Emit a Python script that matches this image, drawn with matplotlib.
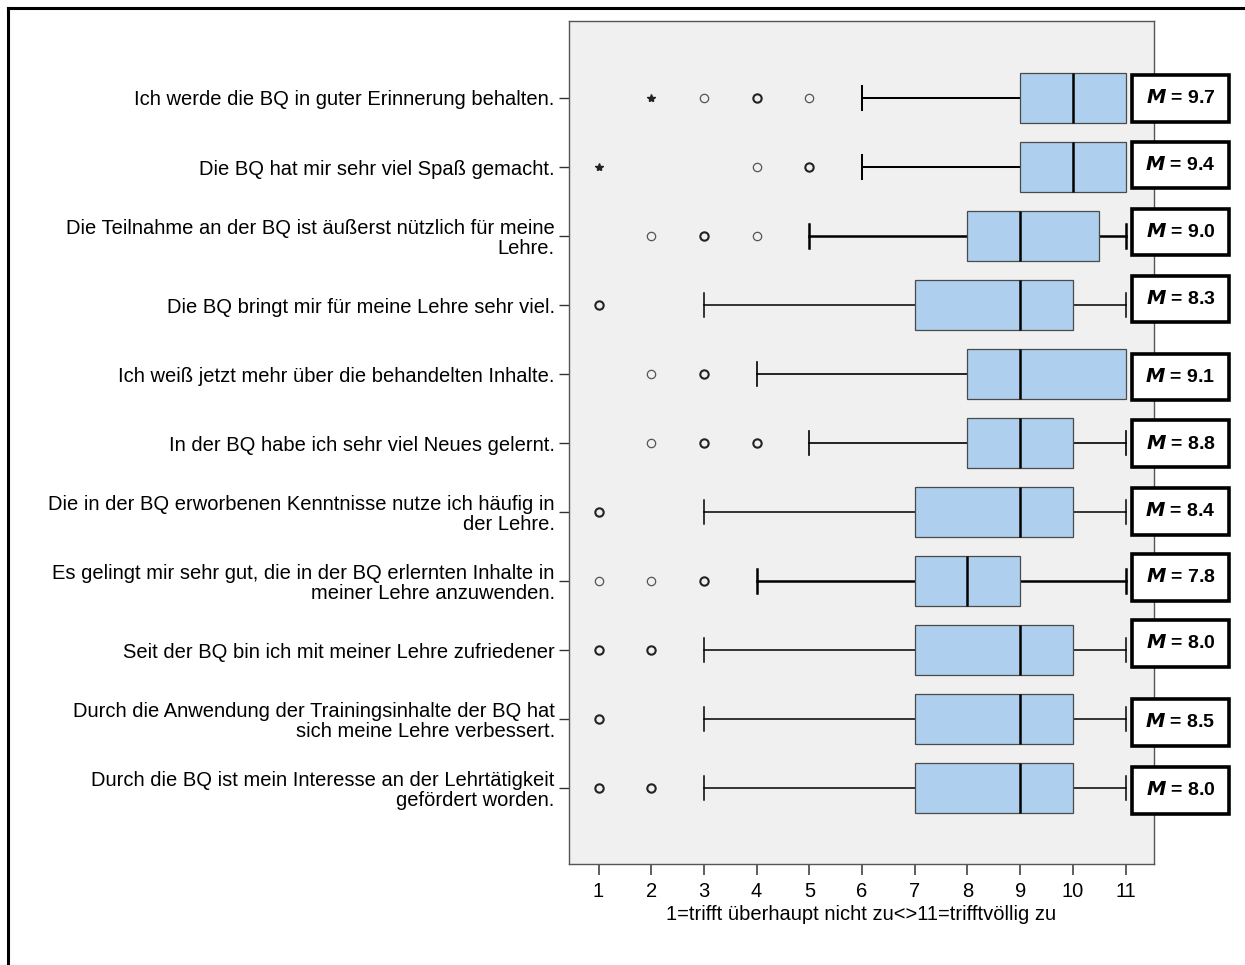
import matplotlib
matplotlib.use("Agg")
import matplotlib.pyplot as plt
from matplotlib.lines import Line2D
from matplotlib.patches import Rectangle

# ---- data -------------------------------------------------------------
items = [
    "Ich werde die BQ in guter Erinnerung behalten.",
    "Die BQ hat mir sehr viel Spaß gemacht.",
    "Die Teilnahme an der BQ ist äußerst nützlich für meine\nLehre.",
    "Die BQ bringt mir für meine Lehre sehr viel.",
    "Ich weiß jetzt mehr über die behandelten Inhalte.",
    "In der BQ habe ich sehr viel Neues gelernt.",
    "Die in der BQ erworbenen Kenntnisse nutze ich häufig in\nder Lehre.",
    "Es gelingt mir sehr gut, die in der BQ erlernten Inhalte in\nmeiner Lehre anzuwenden.",
    "Seit der BQ bin ich mit meiner Lehre zufriedener",
    "Durch die Anwendung der Trainingsinhalte der BQ hat\nsich meine Lehre verbessert.",
    "Durch die BQ ist mein Interesse an der Lehrtätigkeit\ngefördert worden.",
]
q1 = [9, 9, 8, 7, 8, 8, 7, 7, 7, 7, 7]
medians = [10, 10, 9, 9, 9, 9, 9, 8, 9, 9, 9]
q3 = [11, 11, 10.5, 10, 11, 10, 10, 9, 10, 10, 10]
whisker_low = [6, 6, 5, 3, 4, 5, 3, 4, 3, 3, 3]
whisker_high = [11, 11, 11, 11, 11, 11, 11, 11, 11, 11, 11]
outliers = [[3, 4, 5], [4, 5], [2, 3, 4], [1], [2, 3], [2, 3, 4],
            [1], [1, 2, 3], [1, 2], [1], [1, 2]]
extremes = [[2], [1], [], [], [], [], [], [], [], [], []]
means = [9.7, 9.4, 9.0, 8.3, 9.1, 8.8, 8.4, 7.8, 8.0, 8.5, 8.0]
scale_ticks = list(range(1, 12))
scale_label = "1=trifft überhaupt nicht zu<>11=trifftvöllig zu"

# ---- styling ------------------------------------------------------------
FONT = "Liberation Sans"
BOX_FILL = "#aecfee"
PANEL_BG = "#f0f0f0"
whisker_lw = [1.45, 1.45, 1.8, 1.1, 1.2, 1.2, 1.1, 1.8, 1.1, 1.1, 1.1]
# darker rings where several cases share the same value
heavy_outliers = [[4], [5], [3], [1], [3], [3, 4], [1], [3], [1, 2], [1], [1, 2]]
# small vertical nudges (pixels) of the mean badges
badge_nudge_px = [0.5, -2, -4, -6, 3, 0.5, -1, -4, -7, 3, 2]

plt.rcParams["font.family"] = [FONT, "DejaVu Sans"]

W, H, DPI = 1245, 965, 100
fig = plt.figure(figsize=(W / DPI, H / DPI), dpi=DPI, facecolor="white")
ax = fig.add_axes([569 / W, 1 - 864 / H, (1154 - 569) / W, (864 - 20.7) / H])
ax.set_facecolor(PANEL_BG)

positions = list(range(1, len(items) + 1))
stats = []
for i in range(len(items)):
    stats.append(dict(med=medians[i], q1=q1[i], q3=q3[i],
                      whislo=whisker_low[i], whishi=whisker_high[i],
                      fliers=[], label=items[i]))

res = ax.bxp(stats, positions=positions, vert=False, widths=0.72,
             patch_artist=True, showfliers=False, capwidths=0.35,
             boxprops=dict(facecolor=BOX_FILL, edgecolor="#4a4a4a", linewidth=0.9),
             medianprops=dict(color="black", linewidth=1.8),
             whiskerprops=dict(color="black", linewidth=1.1),
             capprops=dict(color="black", linewidth=1.1))
for i in range(len(items)):
    for k in (2 * i, 2 * i + 1):
        res["whiskers"][k].set_linewidth(whisker_lw[i])
        res["caps"][k].set_linewidth(whisker_lw[i])
for b in res["boxes"]:
    b.set_zorder(3)
for m in res["medians"]:
    m.set_zorder(4)

# outliers (circles) and extreme values (stars)
for i, y in enumerate(positions):
    for v in outliers[i]:
        heavy = v in heavy_outliers[i]
        ax.plot(v, y, marker="o", markersize=6.0, markerfacecolor="none",
                markeredgecolor="#222222" if heavy else "#555555",
                markeredgewidth=1.5 if heavy else 0.9, linestyle="none", zorder=4)
    for v in extremes[i]:
        ax.plot(v, y, marker="*", markersize=6.0, color="#222222",
                linestyle="none", zorder=4)

ax.set_xlim(0.44, 11.54)
ax.set_ylim(12.10, -0.12)
ax.set_xticks(scale_ticks)
ax.set_xticklabels([str(t) for t in scale_ticks], fontsize=14.5)
ax.set_yticks(positions)
ax.set_yticklabels(items, fontsize=14.5, linespacing=1.05)
ax.tick_params(axis="x", length=8, width=1.1, color="#333333", pad=5)
ax.tick_params(axis="y", length=7.2, width=1.0, color="#333333", pad=3)
ax.set_xlabel(scale_label, fontsize=14.5, labelpad=3)
for s in ax.spines.values():
    s.set_color("#555555")
    s.set_linewidth(1.0)

# mean badges at the right edge
px_per_row = 69.0
for i, y in enumerate(positions):
    yc = y + badge_nudge_px[i] / px_per_row
    ax.add_patch(Rectangle((11.13, yc - 0.34), 1.83, 0.68, facecolor="white",
                           edgecolor="black", linewidth=2.6, clip_on=False, zorder=6))
    ax.text(12.045, yc, r"$\mathbfit{M}$" + f" = {means[i]:.1f}", ha="center", va="center",
            fontsize=14, fontweight="bold", clip_on=False, zorder=7)

# frame lines at the figure edge
fig.add_artist(Line2D([7.5 / W, 7.5 / W], [0, 1 - 7.5 / H], color="black",
                      linewidth=2.2, transform=fig.transFigure))
fig.add_artist(Line2D([7.5 / W, 1], [1 - 7.5 / H, 1 - 7.5 / H], color="black",
                      linewidth=2.2, transform=fig.transFigure))

fig.savefig("out.png", dpi=DPI, facecolor="white")
